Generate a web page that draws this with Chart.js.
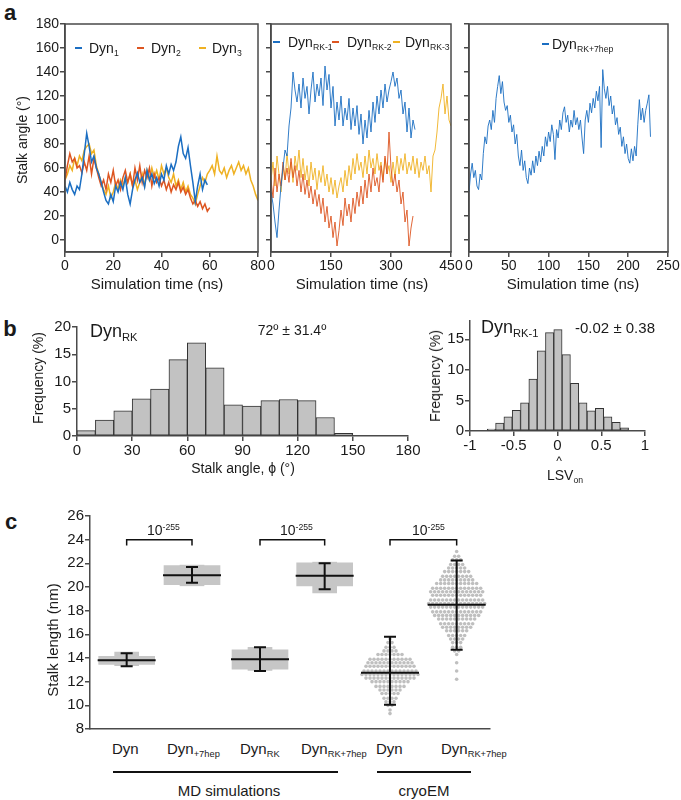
<!DOCTYPE html>
<html>
<head>
<meta charset="utf-8">
<script src="https://cdn.jsdelivr.net/npm/chart.js@4.4.0/dist/chart.umd.min.js"></script>
<style>
  html, body { margin: 0; padding: 0; background: #fff; }
  #figure { position: relative; width: 681px; height: 800px; overflow: hidden;
            font-family: "Liberation Sans", Arial, sans-serif; color: #1a1a1a; }
  #figure canvas { position: absolute; }
  .txt { position: absolute; white-space: nowrap; line-height: 1; }
  .txt sub { font-size: 0.62em; vertical-align: -0.4em; line-height: 0; }
  .txt sup { font-size: 0.62em; vertical-align: 0.55em; line-height: 0; }
  .rule { position: absolute; }
</style>
</head>
<body>
<div id="figure"></div>
<script>
// --- Panel a: stalk angle traces (degrees) ---
// MD runs of wild-type dynamin, one sample per 1 ns
const dyn1Angle = [45, 40, 48, 42, 38, 45, 42, 55, 72, 89, 78, 65, 70, 60, 55, 48, 40, 33, 30, 38,
  32, 45, 40, 48, 42, 52, 38, 30, 42, 50, 56, 48, 52, 44, 58, 50, 55, 47, 52, 45,
  55, 50, 62, 55, 63, 58, 65, 78, 86, 72, 68, 77, 62, 48, 32, 45, 55, 42, 50, 46];
const dyn2Angle = [50, 62, 72, 65, 68, 60, 62, 56, 65, 58, 70, 55, 68, 60, 52, 45, 50, 42, 55, 48,
  58, 45, 50, 42, 52, 58, 48, 55, 45, 60, 50, 62, 48, 58, 52, 60, 45, 55, 48, 52,
  45, 50, 42, 48, 40, 46, 42, 48, 40, 44, 38, 42, 35, 30, 33, 28, 32, 26, 30, 24, 27];
const dyn3Angle = [50, 55, 62, 58, 68, 62, 70, 66, 75, 78, 80, 72, 75, 62, 55, 48, 42, 38, 45, 35,
  40, 48, 42, 50, 45, 52, 48, 55, 45, 50, 42, 48, 55, 45, 58, 50, 60, 52, 58, 50,
  62, 55, 60, 52, 48, 55, 45, 50, 42, 48, 40, 45, 38, 35, 30, 38, 45, 52, 48, 55,
  58, 62, 55, 70, 58, 55, 60, 52, 58, 62, 55, 60, 65, 58, 62, 55, 60, 50, 45, 38, 33];
const dynStep = 1;

// RK mutant runs, one sample per 5 ns
const rk1Angle = [40, 30, 15, 2, 25, 45, 60, 75, 70, 95, 110, 140, 125, 115, 130, 110, 135, 118, 128, 105,
  125, 140, 115, 130, 120, 135, 112, 145, 125, 138, 110, 128, 95, 115, 100, 120, 95, 110, 100, 118,
  92, 110, 95, 112, 88, 105, 80, 100, 85, 108, 90, 115, 98, 120, 105, 125, 110, 130, 115, 125,
  132, 140, 128, 135, 118, 125, 105, 115, 90, 110, 85, 100, 92];
const rk2Angle = [50, 35, 60, 40, 55, 45, 65, 50, 60, 48, 68, 52, 62, 45, 58, 40, 55, 38, 50, 35,
  45, 30, 42, 28, 38, 22, 35, 15, 28, 10, 20, 2, 15, -5, 8, 25, 12, 35, 20, 30,
  15, 35, 22, 40, 28, 45, 30, 50, 35, 55, 40, 60, 45, 52, 40, 62, 48, 70, 55, 90,
  60, 45, 55, 40, 50, 30, 40, 15, 25, -5, 10, 20];
const rk3Angle = [50, 65, 45, 70, 55, 40, 62, 50, 72, 55, 65, 48, 70, 58, 75, 52, 68, 50, 62, 45,
  65, 50, 60, 42, 58, 48, 62, 45, 55, 40, 52, 38, 50, 35, 45, 52, 40, 58, 45, 62,
  50, 68, 55, 72, 58, 65, 52, 70, 55, 75, 60, 68, 55, 72, 58, 65, 50, 68, 55, 62,
  48, 65, 52, 70, 55, 68, 58, 72, 55, 65, 58, 70, 55, 68, 52, 65, 58, 70, 55, 62,
  40, 70, 75, 90, 110, 118, 130, 105, 120, 100, 95];
const rkStep = 5;

// RK+7hep run, one sample per 2 ns
const rk7hepAngle = [40, 55, 64, 52, 58, 45, 42, 55, 50, 72, 86, 80, 95, 100, 92, 108, 98, 118, 128, 137,
  122, 132, 115, 108, 112, 98, 104, 90, 96, 80, 88, 70, 62, 75, 58, 66, 52, 47, 60, 54,
  66, 56, 70, 62, 74, 65, 78, 70, 86, 78, 90, 82, 96, 88, 67, 92, 85, 100, 92, 106,
  111, 98, 104, 90, 100, 94, 108, 96, 102, 92, 100, 85, 72, 100, 108, 98, 114, 106, 118, 110,
  124, 116, 128, 77, 142, 126, 118, 128, 112, 120, 105, 112, 96, 102, 88, 94, 78, 86, 72, 80,
  68, 64, 76, 66, 78, 70, 96, 117, 100, 110, 98, 108, 114, 121, 86];
const rk7hepStep = 2;

// --- Panel b: histograms ---
const angleBins = [5, 15, 25, 35, 45, 55, 65, 75, 85, 95, 105, 115, 125, 135, 145];
const angleFreq = [1.0, 2.9, 4.6, 6.8, 8.6, 14.0, 17.1, 12.5, 5.7, 5.5, 6.5, 6.7, 6.5, 3.4, 0.5];
const lsvBins = [-0.755, -0.66, -0.565, -0.47, -0.375, -0.28, -0.185, -0.09, 0.005, 0.1,
  0.195, 0.29, 0.385, 0.48, 0.575, 0.67, 0.765];
const lsvFreq = [0.3, 1.3, 2.3, 3.4, 4.6, 8.5, 13.1, 16.1, 16.6, 12.5, 7.8, 4.6, 3.3, 3.7, 2.3, 1.4, 0.5];

// --- Panel c: stalk length (nm) ---
const groupPos = [0.55, 1.53, 2.55, 3.52, 4.5, 5.5];
const lengthMean = [13.8, 21.0, 13.9, 20.95, 12.75, 18.5];
const lengthLow = [13.3, 20.35, 12.9, 19.8, 10.05, 14.7];
const lengthHigh = [14.4, 21.7, 14.9, 22.0, 15.8, 22.25];
// MD distributions (groups 0-3): dense core and thinner tails
const mdCoreLow = [13.45, 20.2, 13.05, 20.1];
const mdCoreHigh = [14.15, 21.8, 14.7, 22.05];
const mdTailLow = [13.35, 20.1, 12.95, 19.5];
const mdTailHigh = [14.5, 21.85, 14.9, 22.1];
// cryoEM measurements, binned rows: value and number of particles
const cryoDynRows = [9.3, 9.6, 10.0, 10.3, 10.6, 11.0, 11.3, 11.6, 12.0, 12.3, 12.6, 12.9, 13.3, 13.6, 13.9, 14.3, 14.6, 14.9, 15.3, 15.6];
const cryoDynCount = [1, 1, 2, 3, 4, 5, 6, 8, 10, 13, 15, 14, 13, 12, 11, 7, 4, 3, 2, 1];
const cryoRkRows = [12.2, 12.9, 13.6, 14.3, 14.6, 14.9, 15.3, 15.6, 15.9, 16.3, 16.6, 16.9, 17.3, 17.6, 17.9,
  18.3, 18.6, 18.9, 19.3, 19.6, 19.9, 20.3, 20.6, 20.9, 21.3, 21.6, 21.9, 22.3, 22.6, 23.0];
const cryoRkCount = [1, 1, 1, 1, 2, 3, 3, 4, 5, 6, 8, 9, 10, 12, 13, 14, 15, 14, 13, 14, 13, 11, 9, 8, 7, 5, 4, 3, 2, 1];
const groupLabels = ['Dyn', 'Dyn<sub>+7hep</sub>', 'Dyn<sub>RK</sub>', 'Dyn<sub>RK+7hep</sub>', 'Dyn', 'Dyn<sub>RK+7hep</sub>'];

// --- Global Setup ---
const figure = document.getElementById('figure');
const BLUE = '#1b6ec2', RED = '#dd5520', YELLOW = '#efb122';
const AXIS = '#4a4a4a';
Chart.defaults.font.family = '"Liberation Sans", Arial, sans-serif';
Chart.defaults.font.size = 14;
Chart.defaults.color = '#1a1a1a';
Chart.defaults.animation = false;

function toXY(values, step) {
  return values.map(function (v, i) { return { x: i * step, y: v }; });
}

function addText(html, x, y, size, opts) {
  opts = opts || {};
  const el = document.createElement('div');
  el.className = 'txt';
  el.innerHTML = html;
  el.style.left = x + 'px';
  el.style.top = y + 'px';
  el.style.fontSize = size + 'px';
  if (opts.bold) el.style.fontWeight = 'bold';
  const ax = opts.align === 'left' ? '0' : (opts.align === 'right' ? '-100%' : '-50%');
  let t = 'translate(' + ax + ', -50%)';
  if (opts.rotate) t += ' rotate(' + opts.rotate + 'deg)';
  el.style.transform = t;
  figure.appendChild(el);
}

function addRule(x1, x2, y, color, h) {
  const el = document.createElement('div');
  el.className = 'rule';
  el.style.left = x1 + 'px';
  el.style.top = (y - h / 2) + 'px';
  el.style.width = (x2 - x1) + 'px';
  el.style.height = h + 'px';
  el.style.background = color;
  figure.appendChild(el);
}

// plain tick text: "-1", "-0.5", "0" ... rather than "-1.0"
function plainTick(value) {
  return String(Math.round(value * 100) / 100);
}

function linAxis(min, max, step, showLabels, size) {
  return {
    type: 'linear', min: min, max: max, offset: false,
    border: { display: true, color: AXIS, width: 1.5 },
    grid: { offset: false, drawOnChartArea: false, drawTicks: step !== null, tickLength: 5, color: AXIS, lineWidth: 1.5 },
    ticks: { display: showLabels, stepSize: step || undefined, includeBounds: false, padding: 1,
             autoSkip: false, maxRotation: 0, font: { size: size }, callback: plainTick }
  };
}

// Place a canvas so that its chart area lands on the given page rectangle
function makeChart(area, yW, xH, config) {
  const padTop = 12, padRight = 16;
  const w = area.r - area.l + yW + padRight;
  const h = area.b - area.t + padTop + xH;
  const canvas = document.createElement('canvas');
  canvas.width = w; canvas.height = h;
  canvas.style.left = (area.l - yW) + 'px';
  canvas.style.top = (area.t - padTop) + 'px';
  canvas.style.width = w + 'px';
  canvas.style.height = h + 'px';
  figure.appendChild(canvas);
  const o = config.options;
  o.responsive = false;
  o.devicePixelRatio = 1;
  o.layout = { padding: { top: padTop, right: padRight, left: 0, bottom: 0 } };
  o.plugins = Object.assign({ legend: { display: false }, tooltip: { enabled: false } }, o.plugins || {});
  o.scales.x.afterFit = function (s) { s.height = xH; };
  o.scales.y.afterFit = function (s) { s.width = yW; };
  return new Chart(canvas, config);
}

const framePlugin = {
  id: 'frame',
  afterDraw: function (chart) {
    const a = chart.chartArea, ctx = chart.ctx;
    ctx.save();
    ctx.strokeStyle = AXIS;
    ctx.lineWidth = 1.5;
    ctx.strokeRect(a.left, a.top, a.right - a.left, a.bottom - a.top);
    ctx.restore();
  }
};

function trace(values, step, color, width) {
  return { data: toXY(values, step), borderColor: color, borderWidth: width, pointRadius: 0, tension: 0, fill: false };
}

// --- Panel a ---
makeChart({ l: 65, r: 258, t: 24, b: 252 }, 40, 26, {
  type: 'line',
  data: { datasets: [trace(dyn1Angle, dynStep, BLUE, 1.5), trace(dyn2Angle, dynStep, RED, 1.5), trace(dyn3Angle, dynStep, YELLOW, 1.5)] },
  options: { scales: { x: linAxis(0, 80, 20, true, 14), y: linAxis(-10, 180, 20, true, 14) } },
  plugins: [framePlugin]
});
makeChart({ l: 271, r: 451, t: 24, b: 252 }, 8, 26, {
  type: 'line',
  data: { datasets: [trace(rk1Angle, rkStep, BLUE, 0.9), trace(rk2Angle, rkStep, RED, 0.9), trace(rk3Angle, rkStep, YELLOW, 0.9)] },
  options: { scales: { x: linAxis(0, 450, 150, true, 14), y: linAxis(-10, 180, 20, false, 14) } },
  plugins: [framePlugin]
});
makeChart({ l: 469, r: 668, t: 24, b: 252 }, 8, 26, {
  type: 'line',
  data: { datasets: [trace(rk7hepAngle, rk7hepStep, BLUE, 0.9)] },
  options: { scales: { x: linAxis(0, 250, 50, true, 14), y: linAxis(-10, 180, 20, false, 14) } },
  plugins: [framePlugin]
});

// --- Panel b ---
function histBars(bins, freq) {
  return {
    data: bins.map(function (b, i) { return { x: b, y: freq[i] }; }),
    backgroundColor: '#c2c2c2', borderColor: '#333', borderWidth: 1,
    barPercentage: 1, categoryPercentage: 1, borderSkipped: false
  };
}
makeChart({ l: 77, r: 408, t: 327, b: 436 }, 35, 28, {
  type: 'bar',
  data: { datasets: [histBars(angleBins, angleFreq)] },
  options: { scales: { x: linAxis(0, 180, 30, true, 15), y: linAxis(0, 20, 5, true, 15) } }
});
makeChart({ l: 470, r: 645, t: 321, b: 431 }, 30, 26, {
  type: 'bar',
  data: { datasets: [histBars(lsvBins, lsvFreq)] },
  options: { scales: { x: linAxis(-1, 1, 0.5, true, 15), y: linAxis(0, 18, 5, true, 15) } }
});

// --- Panel c ---
function swarm(center, rows, counts) {
  const dotGap = 0.06;
  const pts = [];
  rows.forEach(function (v, r) {
    const n = counts[r];
    for (let j = 0; j < n; j++) pts.push({ x: center + (j - (n - 1) / 2) * dotGap, y: v });
  });
  return pts;
}
function mdBand(low, high, thickness) {
  return {
    type: 'bar', grouped: false, barThickness: thickness, backgroundColor: '#c6c6c6', borderWidth: 0,
    data: low.map(function (lo, i) { return { x: groupPos[i], y: [lo, high[i]] }; })
  };
}
const statsPlugin = {
  id: 'stats',
  afterDatasetsDraw: function (chart) {
    const ctx = chart.ctx, x = chart.scales.x, y = chart.scales.y;
    ctx.save();
    ctx.strokeStyle = '#111';
    ctx.lineWidth = 2;
    ctx.beginPath();
    groupPos.forEach(function (g, i) {
      const cx = x.getPixelForValue(g);
      const ym = y.getPixelForValue(lengthMean[i]);
      const lo = y.getPixelForValue(lengthLow[i]);
      const hi = y.getPixelForValue(lengthHigh[i]);
      ctx.moveTo(cx - 29, ym); ctx.lineTo(cx + 29, ym);
      ctx.moveTo(cx, lo); ctx.lineTo(cx, hi);
      ctx.moveTo(cx - 6, lo); ctx.lineTo(cx + 6, lo);
      ctx.moveTo(cx - 6, hi); ctx.lineTo(cx + 6, hi);
    });
    ctx.stroke();
    // significance brackets between neighbouring groups
    ctx.lineWidth = 1.5;
    ctx.beginPath();
    [0, 2, 4].forEach(function (i) {
      const x1 = x.getPixelForValue(groupPos[i]), x2 = x.getPixelForValue(groupPos[i + 1]);
      const yb = y.getPixelForValue(24.0), yt = y.getPixelForValue(23.5);
      ctx.moveTo(x1, yt); ctx.lineTo(x1, yb); ctx.lineTo(x2, yb); ctx.lineTo(x2, yt);
    });
    ctx.stroke();
    ctx.restore();
  }
};
makeChart({ l: 90, r: 490, t: 516, b: 735 }, 40, 4, {
  type: 'bar',
  data: {
    datasets: [
      mdBand(mdTailLow, mdTailHigh, 24),
      mdBand(mdCoreLow, mdCoreHigh, 56),
      { type: 'scatter', data: swarm(groupPos[4], cryoDynRows, cryoDynCount), pointRadius: 1.8, backgroundColor: '#bfbfbf', borderWidth: 0 },
      { type: 'scatter', data: swarm(groupPos[5], cryoRkRows, cryoRkCount), pointRadius: 1.8, backgroundColor: '#bfbfbf', borderWidth: 0 }
    ]
  },
  options: { scales: { x: linAxis(0, 6, null, false, 15), y: linAxis(8, 26, 2, true, 15) } },
  plugins: [statsPlugin]
});

// --- Text annotations ---
addText('a', 10, 13, 22, { bold: true });
addText('b', 10, 329, 22, { bold: true });
addText('c', 11, 522, 22, { bold: true });

addText('Stalk angle (°)', 22, 140, 14, { rotate: -90 });
addText('Simulation time (ns)', 157, 283, 15);
addText('Simulation time (ns)', 362, 283, 15);
addText('Simulation time (ns)', 573, 283, 15);

// legends: short coloured dash + label
[[75, 89, 48, BLUE, 'Dyn<sub>1</sub>'], [137, 151, 48, RED, 'Dyn<sub>2</sub>'], [199, 212, 48, YELLOW, 'Dyn<sub>3</sub>'],
 [273, 288, 42, BLUE, 'Dyn<sub>RK-1</sub>'], [332, 347, 42, RED, 'Dyn<sub>RK-2</sub>'], [393, 405, 42, YELLOW, 'Dyn<sub>RK-3</sub>'],
 [542, 552, 44, BLUE, 'Dyn<sub>RK+7hep</sub>']].forEach(function (l) {
  addRule(l[0], l[0] + 7, l[2], l[3], 2);
  addText(l[4], l[1], l[2], 14, { align: 'left' });
});

addText('Dyn<sub>RK</sub>', 90, 331, 18, { align: 'left' });
addText('72º ± 31.4º', 292, 330, 14);
addText('Frequency (%)', 38, 378, 14, { rotate: -90 });
addText('Stalk angle, ϕ (°)', 243, 468, 14);

addText('Dyn<sub>RK-1</sub>', 481, 327, 18, { align: 'left' });
addText('-0.02 ± 0.38', 615, 327, 15);
addText('Frequency (%)', 435, 376, 14, { rotate: -90 });
addText('^', 559, 461, 12);
addText('LSV<sub>on</sub>', 547, 475, 14, { align: 'left' });

addText('Stalk length (nm)', 52, 640, 15, { rotate: -90 });
[112, 167, 240, 301, 376, 441].forEach(function (x, i) {
  addText(groupLabels[i], x, 748, 15, { align: 'left' });
});
[147, 280, 412].forEach(function (x) {
  addText('10<sup>-255</sup>', x, 530, 14, { align: 'left' });
});
addRule(113, 338, 772, '#111', 2);
addRule(377, 471, 772, '#111', 2);
addText('MD simulations', 229, 790, 15);
addText('cryoEM', 424, 790, 15);
</script>
</body>
</html>
